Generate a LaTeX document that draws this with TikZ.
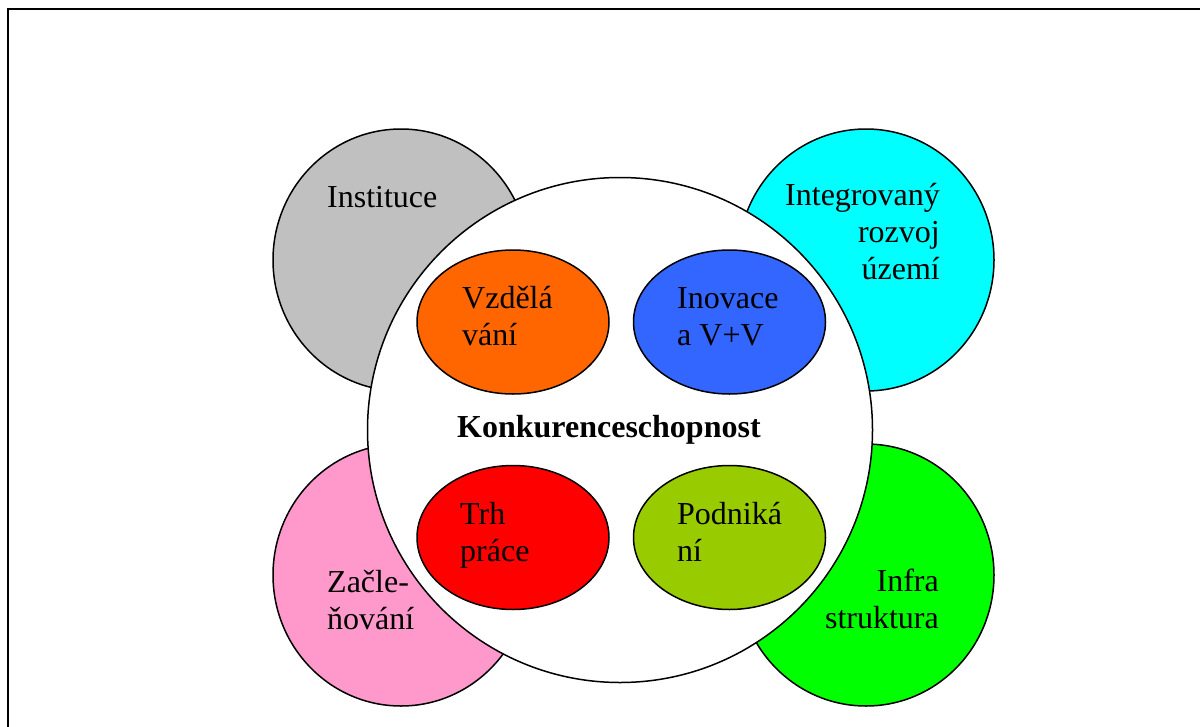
\documentclass[tikz,border=0pt]{standalone}
\usepackage{fontspec}
\setmainfont{Liberation Serif}
\usetikzlibrary{shapes.geometric}
\definecolor{cgray}{HTML}{C0C0C0}
\definecolor{ccyan}{HTML}{00FFFF}
\definecolor{cpink}{HTML}{FF99CC}
\definecolor{cgreen}{HTML}{00FF00}
\definecolor{corange}{HTML}{FF6600}
\definecolor{cblue}{HTML}{3366FF}
\definecolor{cred}{HTML}{FF0000}
\definecolor{colive}{HTML}{99CC00}
\begin{document}
\begin{tikzpicture}[x=1pt,y=-1pt,
  outerc/.style={ellipse, draw=black, line width=1.5pt, inner sep=0pt, minimum width=256pt, minimum height=262pt},
  innere/.style={ellipse, draw=black, line width=1.5pt, inner sep=0pt, minimum width=192pt, minimum height=144pt},
  lbl/.style={inner sep=0pt, font=\fontsize{32}{37}\selectfont},
  lblL/.style={lbl, anchor=base west, align=left},
  lblR/.style={lbl, anchor=base east, align=right}]
\useasboundingbox (0,0) rectangle (1200,726);
\fill[white] (0,0) rectangle (1200,726);
\draw[line width=2.4pt] (8,760) -- (8,9) -- (1230,9);
% outer circles
\node[outerc, fill=cgray]  (inst) at (401,260) {};
\node[outerc, fill=ccyan]  (integ) at (866,260) {};
\node[outerc, fill=cpink]  (zacl) at (401,575) {};
\node[outerc, fill=cgreen] (infra) at (866,575) {};
% central circle
\node[circle, draw=black, line width=1.5pt, fill=white, inner sep=0pt, minimum size=505pt] (konk) at (620,430) {};
% inner ellipses
\node[innere, fill=corange] (vzd) at (513,322) {};
\node[innere, fill=cblue]   (ino) at (729.5,322) {};
\node[innere, fill=cred]    (trh) at (513,537.5) {};
\node[innere, fill=colive]  (pod) at (729.5,537.5) {};
% labels (anchor = baseline of the last line)
\node[lblL] (tInst) at (327,207) {Instituce};
\node[lblR] (tInteg) at (940,279) {Integrovaný\\rozvoj\\území};
\node[lblL] (tVzd) at (462,345) {Vzdělá\\vání};
\node[lblL] (tIno) at (677,345) {Inovace\\a V+V};
\node[lbl, anchor=base west, font=\fontsize{32}{37}\selectfont\bfseries] (tKonk) at (457,437) {Konkurenceschopnost};
\node[lblL] (tTrh) at (460,561) {Trh\\práce};
\node[lblL] (tPod) at (677,561) {Podniká\\ní};
\node[lblL] (tZacl) at (327,629) {Začle-\\ňování};
\node[lblR] (tInfra) at (939,628) {Infra\\struktura};
\end{tikzpicture}
\end{document}
